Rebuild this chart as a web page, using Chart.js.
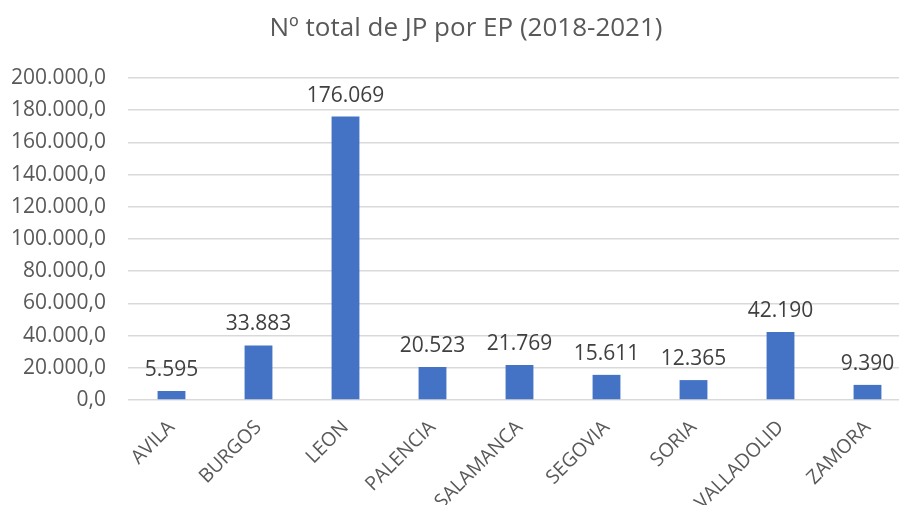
<!DOCTYPE html>
<html><head><meta charset="utf-8">
<script src="https://cdn.jsdelivr.net/npm/chart.js@4"></script>
<style>html,body{margin:0;padding:0;background:#fff;overflow:hidden;width:899px;height:505px}#wrap{width:932px;height:505px}</style>
</head><body><div id="wrap"><canvas id="c" width="932" height="505"></canvas></div>
<script>
const categories = ["AVILA","BURGOS","LEON","PALENCIA","SALAMANCA","SEGOVIA","SORIA","VALLADOLID","ZAMORA"];
const values = [5595, 33883, 176069, 20523, 21769, 15611, 12365, 42190, 9390];
const titleText = "Nº total de JP por EP (2018-2021)";
const yMin = 0, yMax = 200000, yStep = 20000;

function thousands(n){
  const s = Math.round(Math.abs(n)).toString();
  return (n<0?"-":"") + s.replace(/\B(?=(\d{3})+(?!\d))/g, ".");
}
const FONT = "'Open Sans', sans-serif";

const dataLabels = {
  id: 'dataLabels',
  afterDatasetsDraw(chart){
    const ctx = chart.ctx;
    const meta = chart.getDatasetMeta(0);
    ctx.save();
    ctx.font = "21px " + FONT;
    ctx.fillStyle = "#404040";
    ctx.textAlign = "center";
    ctx.textBaseline = "alphabetic";
    meta.data.forEach((bar, i) => {
      ctx.fillText(thousands(values[i]), bar.x, bar.y - 15);
    });
    ctx.restore();
  }
};

const chartTitle = {
  id: 'chartTitle',
  afterDraw(chart){
    const ctx = chart.ctx;
    ctx.save();
    ctx.font = "26px " + FONT;
    ctx.fillStyle = "#595959";
    ctx.textAlign = "center";
    ctx.textBaseline = "alphabetic";
    ctx.fillText(titleText, 466, 36);
    ctx.restore();
  }
};

new Chart(document.getElementById('c'), {
  type: 'bar',
  data: {
    labels: categories,
    datasets: [{
      data: values,
      backgroundColor: '#4472C4',
      borderWidth: 0,
      barPercentage: 0.32,
      categoryPercentage: 1.0
    }]
  },
  options: {
    responsive: false,
    animation: false,
    devicePixelRatio: 1,
    layout: { padding: { left: 0, right: 21, top: 78, bottom: 0 } },
    plugins: {
      legend: { display: false },
      tooltip: { enabled: false },
      title: { display: false }
    },
    scales: {
      x: {
        grid: { display: false },
        border: { display: false },
        ticks: {
          color: '#595959',
          font: { family: FONT, size: 19.5 },
          minRotation: 45, maxRotation: 45,
          padding: 8,
          autoSkip: false
        },
        afterFit(s){ s.height = 105; }
      },
      y: {
        min: yMin, max: yMax,
        grid: { color: '#D9D9D9', lineWidth: 1.5, drawTicks: false },
        border: { display: false },
        ticks: {
          stepSize: yStep,
          color: '#595959',
          font: { family: FONT, size: 21 },
          padding: 22,
          callback: v => thousands(v) + ",0"
        },
        afterFit(s){ s.width = 128; }
      }
    }
  },
  plugins: [dataLabels, chartTitle]
});
</script></body></html>
